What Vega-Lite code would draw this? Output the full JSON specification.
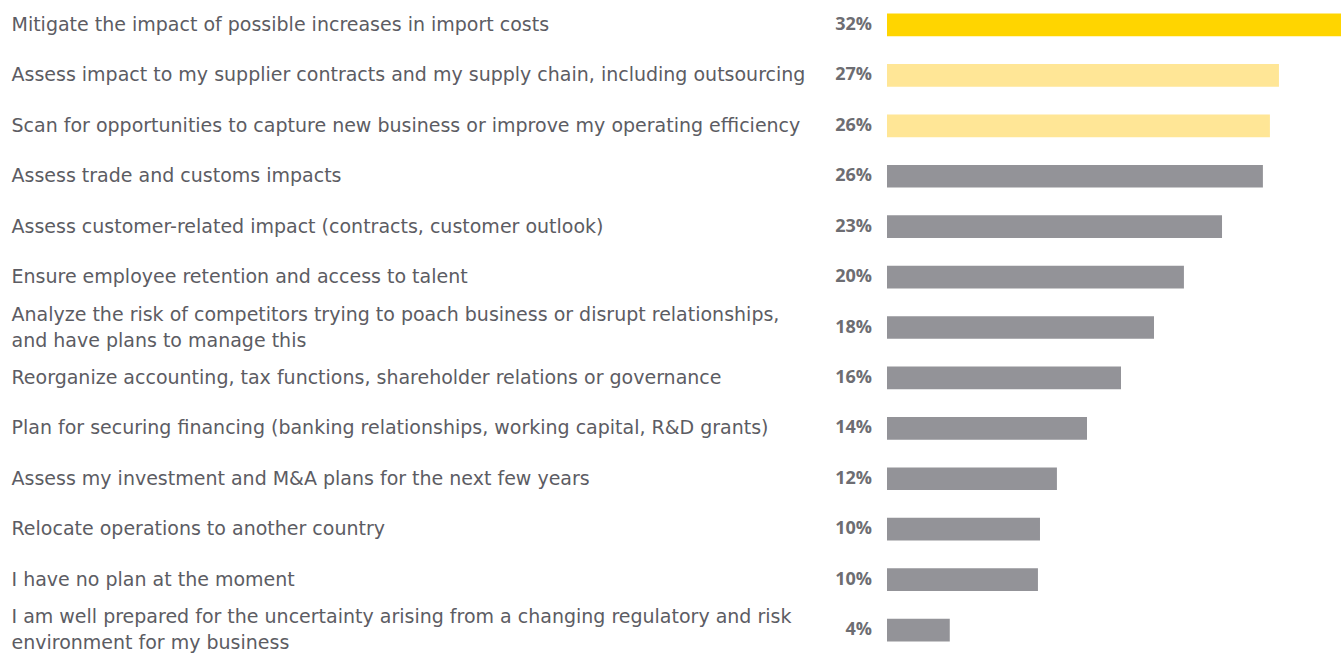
{
  "$schema": "https://vega.github.io/schema/vega-lite/v6.json",
  "autosize": {"type": "none"},
  "padding": {"left": 887, "top": 0, "right": 0, "bottom": 0},
  "width": 454,
  "height": 655,
  "background": "white",
  "config": {"view": {"stroke": null}},
  "data": {
    "values": [
      {"item": "Mitigate the impact of possible increases in import costs", "value": 32, "pct": "32%"},
      {"item": "Assess impact to my supplier contracts and my supply chain, including outsourcing", "value": 26.85, "pct": "27%"},
      {"item": "Scan for opportunities to capture new business or improve my operating efficiency", "value": 26.23, "pct": "26%"},
      {"item": "Assess trade and customs impacts", "value": 25.75, "pct": "26%"},
      {"item": "Assess customer-related impact (contracts, customer outlook)", "value": 22.95, "pct": "23%"},
      {"item": "Ensure employee retention and access to talent", "value": 20.34, "pct": "20%"},
      {"item": "Analyze the risk of competitors trying to poach business or disrupt relationships,|and have plans to manage this", "value": 18.29, "pct": "18%"},
      {"item": "Reorganize accounting, tax functions, shareholder relations or governance", "value": 16.03, "pct": "16%"},
      {"item": "Plan for securing financing (banking relationships, working capital, R&D grants)", "value": 13.7, "pct": "14%"},
      {"item": "Assess my investment and M&A plans for the next few years", "value": 11.64, "pct": "12%"},
      {"item": "Relocate operations to another country", "value": 10.48, "pct": "10%"},
      {"item": "I have no plan at the moment", "value": 10.34, "pct": "10%"},
      {"item": "I am well prepared for the uncertainty arising from a changing regulatory and risk|environment for my business", "value": 4.3, "pct": "4%"}
    ]
  },
  "encoding": {
    "y": {
      "field": "item",
      "type": "nominal",
      "sort": null,
      "scale": {"paddingInner": 0.55, "paddingOuter": 0.27},
      "axis": {
        "title": null,
        "domain": false,
        "ticks": false,
        "labelAlign": "left",
        "labelBaseline": "middle",
        "labelPadding": 876,
        "labelLimit": 860,
        "labelFont": "DejaVu Sans",
        "labelFontSize": 19,
        "labelColor": "#5c5c63",
        "labelLineHeight": 26,
        "labelOffset": {"condition": {"test": "indexof(datum.value, '|') >= 0", "value": -13}, "value": 0},
        "labelExpr": "split(datum.label, '|')"
      }
    }
  },
  "layer": [
    {
      "mark": {"type": "bar", "clip": true},
      "encoding": {
        "x": {
          "field": "value",
          "type": "quantitative",
          "scale": {"domain": [0, 31.1], "nice": false},
          "axis": null
        },
        "color": {
          "condition": [
            {"test": "datum.value >= 30", "value": "#FFD500"},
            {"test": "datum.value > 26", "value": "#FFE696"}
          ],
          "value": "#939398"
        }
      }
    },
    {
      "mark": {
        "type": "text",
        "align": "right",
        "baseline": "middle",
        "dx": -15,
        "font": "Open Sans",
        "fontSize": 18,
        "fontWeight": "bold",
        "color": "#6d6d72"
      },
      "encoding": {
        "x": {"datum": 0, "type": "quantitative"},
        "text": {"field": "pct"}
      }
    }
  ]
}
